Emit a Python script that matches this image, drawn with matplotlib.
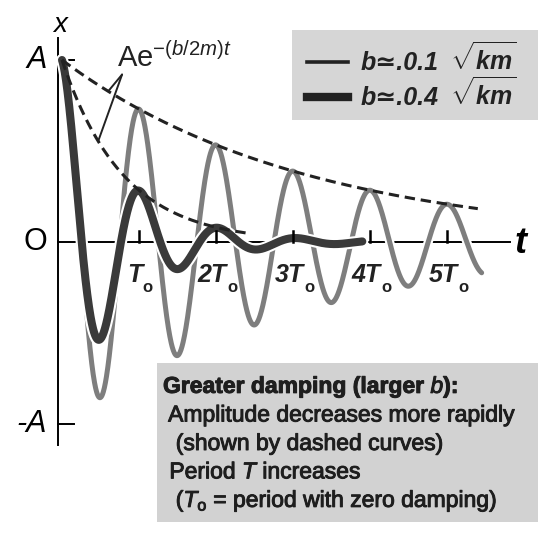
import numpy as np
import matplotlib
matplotlib.use("Agg")
import matplotlib.pyplot as plt
import matplotlib.patheffects as pe
from matplotlib.patches import Rectangle

# ---------------- data ----------------
b_values = [0.1, 0.4]                 # damping constants in units of sqrt(k m)
legend_values = ["b≃.0.1", "b≃.0.4"]
curve_end = [5.45, 3.9]               # how far each curve is drawn (in T0)
envelope_end = [5.4, 2.45]            # how far each dashed envelope is drawn (in T0)
curve_colors = ["#7e7e7e", "#3a3a3a"]
curve_widths = [3.6, 5.8]
tick_multiples = [1, 2, 3, 4, 5]
tick_labels = ["T", "2T", "3T", "4T", "5T"]
tick_subscript = "o"
amplitude = 1.0
note_lines = [r"Greater damping (larger $\mathit{b}$):",
              " Amplitude decreases more rapidly",
              "  (shown by dashed curves)",
              " Period $\\mathit{T}$ increases",
              "  ($\\mathit{T}_{\\mathrm{o}}$ = period with zero damping)"]

# ---------------- style ----------------
plt.rcParams['mathtext.fontset'] = 'custom'
plt.rcParams['mathtext.rm'] = 'Liberation Sans'
plt.rcParams['mathtext.it'] = 'Liberation Sans:italic'
plt.rcParams['mathtext.bf'] = 'Liberation Sans:bold'
plt.rcParams['mathtext.bfit'] = 'Liberation Sans:italic:bold'
plt.rcParams['mathtext.sf'] = 'Liberation Sans'
plt.rcParams['font.family'] = ['Liberation Sans', 'DejaVu Sans']
NARROW = ['Liberation Sans Narrow', 'Liberation Sans', 'DejaVu Sans']

W, H = 544, 534
fig = plt.figure(figsize=(W / 100, H / 100), dpi=100)
ax = fig.add_axes([0, 0, 1, 1])
ax.set_xlim(-62 / 77, (W - 62) / 77)
ax.set_ylim((242 - H) / 182, 242 / 182)
ax.axis('off')

def fx(px):
    return px / W

def fy(py):
    return 1 - py / H

# axes lines
ax.plot([-0.05, -0.05], [-1.115, 1.12], color='black', lw=1.4, zorder=1)
ax.plot([-0.05, 5.82], [0, 0], color='black', lw=1.4, zorder=1)
ax.plot([-0.05, 0.15], [-amplitude, -amplitude], color='black', lw=1.4, zorder=1)
ax.plot([-0.05, 0.15], [amplitude, amplitude], color='black', lw=1.4, zorder=1)

# curves: x(t) = A exp(-b t / 2m) cos(w' t), with m = k = 1, t in units of T0
halo = lambda lw: [pe.Stroke(linewidth=lw + 3, foreground='white'), pe.Normal()]
for b, tend, col, lw, z in zip(b_values, curve_end, curve_colors, curve_widths, [2, 3]):
    t = np.linspace(0, tend, 1200)
    wprime = np.sqrt(1 - b ** 2 / 4)
    x = amplitude * np.exp(-b / 2 * 2 * np.pi * t) * np.cos(wprime * 2 * np.pi * t)
    ax.plot(t, x, color=col, lw=lw, solid_capstyle='round', zorder=z,
            path_effects=halo(lw))

# dashed envelopes
for b, tend in zip(b_values, envelope_end):
    t = np.linspace(0, tend, 300)
    ax.plot(t, amplitude * np.exp(-b / 2 * 2 * np.pi * t), color='#222222', lw=2.2,
            dashes=(3.4, 1.9), zorder=4)

# ticks and labels on t axis
for m, lab in zip(tick_multiples, tick_labels):
    ax.plot([m, m], [0, 0.06], color='black', lw=1.8, zorder=5)
    shift = 3 if len(lab) == 1 else 11
    anchor = (m + shift / 77, -0.22)
    ax.text(*anchor, lab, ha='right', va='baseline', fontsize=18, family=NARROW,
            style='italic', weight='bold', color='#222222', zorder=5)
    ax.annotate(tick_subscript, xy=anchor, xytext=(0.5, -4), textcoords='offset points',
                ha='left', va='center', fontsize=12, family=NARROW, weight='bold',
                color='#222222', zorder=5)

# axis labels
ax.text(-0.03, 1.19, "x", fontsize=20, style='italic', ha='center', va='center')
ax.text(-0.195, amplitude, "A", fontsize=22, style='italic', ha='right', va='center')
ax.text(-0.195, 0, "O", fontsize=22, ha='right', va='center')
ax.text(-0.195, -amplitude, "-A", fontsize=22, style='italic', ha='right', va='center')
ax.text(5.95, -0.01, "t", fontsize=26, style='italic', weight='bold', ha='center', va='center')

# envelope annotation
lab_t, lab_x = 0.78, 0.92
for b, tp in zip(b_values, [0.6, 0.47]):
    ax.annotate("", xy=(tp, amplitude * np.exp(-b / 2 * 2 * np.pi * tp)),
                xytext=(lab_t, lab_x),
                arrowprops=dict(arrowstyle='-', color='#222222', lw=1.4,
                                shrinkA=0, shrinkB=0), zorder=6)
ax.text(0.72, 0.93, r"$\mathrm{Ae}^{-(b/2m)t}$", fontsize=21, ha='left', va='bottom',
        color='#222222', zorder=6)

# legend box
fig.patches.append(Rectangle((fx(292), fy(120)), fx(538) - fx(292), fy(30) - fy(120),
                             transform=fig.transFigure, facecolor='#d6d6d6',
                             edgecolor='none', zorder=0))
for row_y, lw, lab in zip([62, 97], [2.6, 6.0], legend_values):
    fig.add_artist(plt.Line2D([fx(307), fx(348)], [fy(row_y), fy(row_y)],
                              color='#222222', lw=lw, transform=fig.transFigure))
    fig.text(fx(361), fy(row_y + 8), lab, fontsize=18, style='italic', weight='bold',
             family=NARROW, ha='left', va='baseline', color='#222222')
    fig.text(fx(450), fy(row_y + 8), r"$\sqrt{\mathbfit{km}}$", fontsize=18,
             ha='left', va='baseline', color='#222222')

# note box
fig.patches.append(Rectangle((fx(157), fy(522)), fx(538) - fx(157), fy(363) - fy(522),
                             transform=fig.transFigure, facecolor='#d2d2d2',
                             edgecolor='none', zorder=0))
for i, line in enumerate(note_lines):
    fig.text(fx(163), fy(393 + 28.5 * i), line, fontsize=16.5,
             weight='bold' if i == 0 else 'normal', ha='left', va='baseline',
             color='#1e1e1e',
             path_effects=[pe.withStroke(linewidth=0.7, foreground='#1e1e1e')])

fig.savefig("out.png", dpi=100)
